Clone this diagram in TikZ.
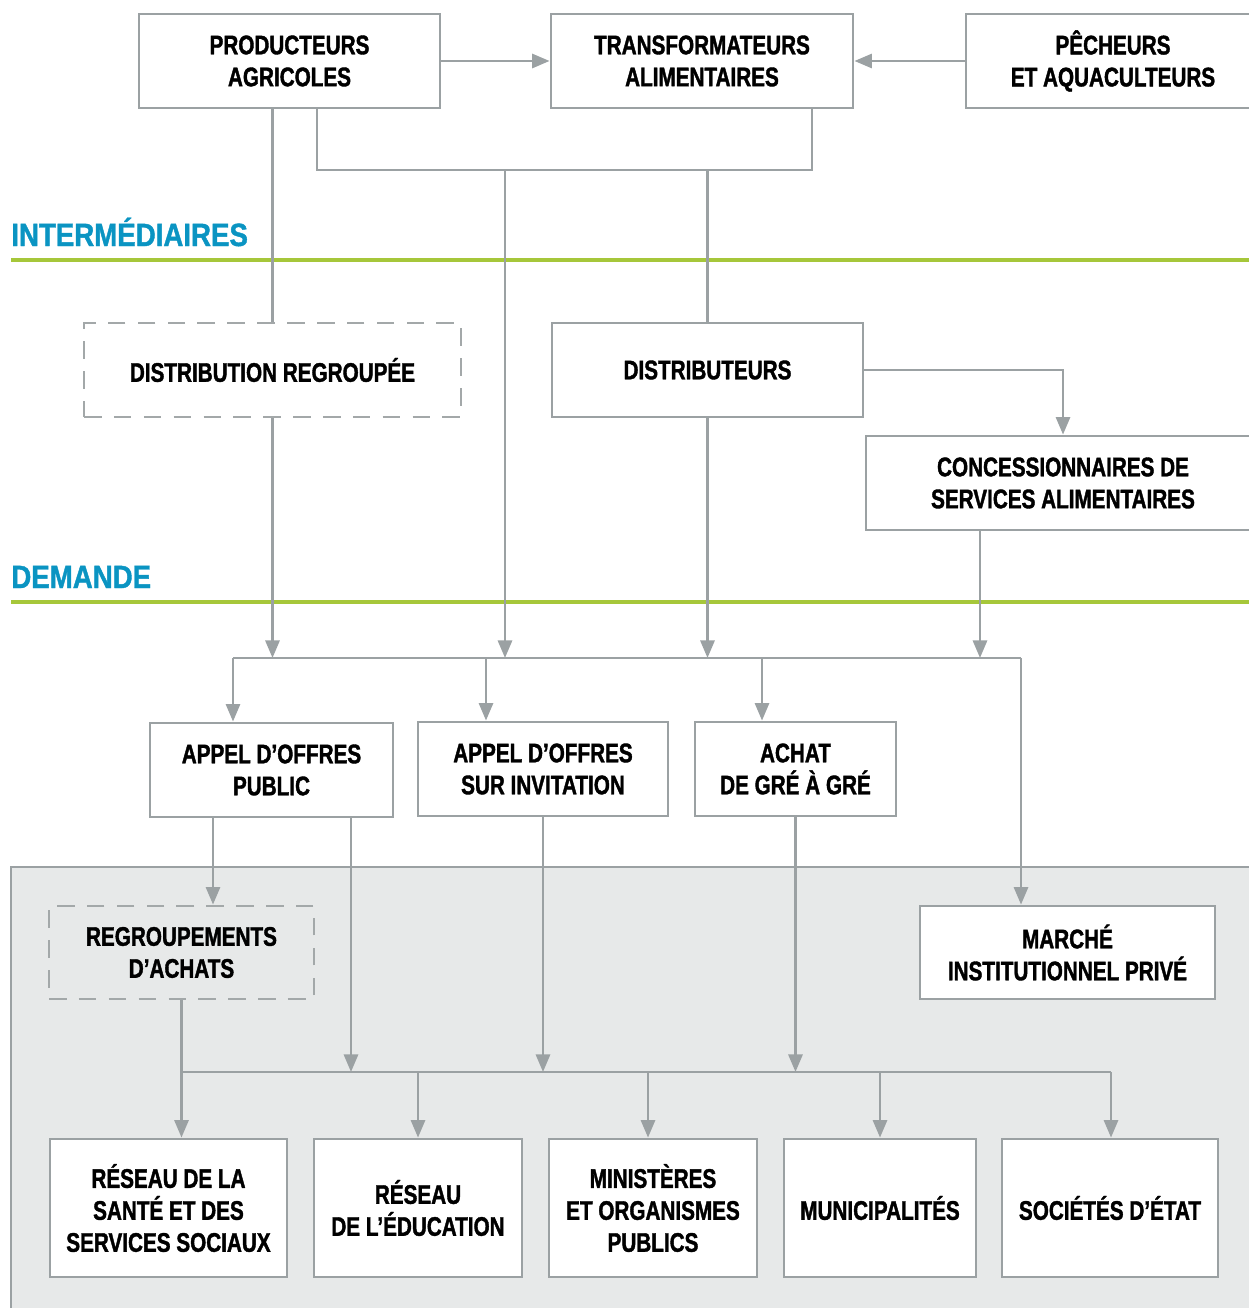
\documentclass[tikz,border=0pt]{standalone}
\usepackage{fontspec}
\newfontfamily\condfont{Liberation Sans}[FakeStretch=0.77, BoldFeatures={FakeBold=1.4}]
\newfontfamily\headfont{Liberation Sans}[FakeStretch=0.86, BoldFeatures={FakeBold=1.2}]
\usepackage{tikz}
\usetikzlibrary{arrows.meta, positioning}
\definecolor{linegray}{HTML}{9BA1A3}
\definecolor{dashgray}{HTML}{A3A8A9}
\definecolor{bandgreen}{HTML}{A6C73A}
\definecolor{headblue}{HTML}{0A94C2}
\definecolor{panelgray}{HTML}{E7E9E9}

\begin{document}
\begin{tikzpicture}[x=0.02cm, y=-0.02cm,
  box/.style={draw=linegray, line width=1.6pt, fill=white, align=center, inner sep=0pt, minimum height=1.88cm, font=\condfont\bfseries\fontsize{15.3}{18.2}\selectfont},
  dbox/.style={box, fill=none, draw=dashgray, dash pattern=on 10pt off 7pt},
  link/.style={draw=linegray, line width=1.6pt},
  flow/.style={link, -{Triangle[length=10pt,width=8pt]}},
  band/.style={draw=bandgreen, line width=2.8pt},
  head/.style={anchor=base west, inner sep=0pt, text=headblue, font=\headfont\bfseries\fontsize{18.3}{20}\selectfont}]
\useasboundingbox (0,0) rectangle (1248,1308);

\fill[panelgray] (11,867) rectangle (1280,1330);
\draw[link] (11,1330) -- (11,867) -- (1280,867);

\node [head] (interm) at (11,246) {INTERMÉDIAIRES};
\node [head] (demande) at (11,588) {DEMANDE};
\draw[band] (11,260) -- (1260,260);
\draw[band] (11,602) -- (1260,602);

\node [box, minimum width=6.02cm] (prod) at (289.5,61) {PRODUCTEURS\\AGRICOLES};
\node [box, minimum width=6.04cm] (transf) at (702,61) {TRANSFORMATEURS\\ALIMENTAIRES};
\node [box, minimum width=5.88cm] (pech) at (1113,61) {PÊCHEURS\\ET AQUACULTEURS};
\draw[flow] (prod) -- (transf);
\draw[flow] (pech) -- (transf);

\node [dbox, minimum width=7.54cm] (distreg) at (272.5,370) {DISTRIBUTION REGROUPÉE};
\node [box, minimum width=6.22cm] (distr) at (707.5,370) {DISTRIBUTEURS};
\node [box, minimum width=7.88cm] (conc) at (1063,483) {CONCESSIONNAIRES DE\\SERVICES ALIMENTAIRES};

\coordinate (brL) at (317,170);
\coordinate (brR) at (812,170);
\coordinate (brM) at (505,170);
\draw[link] (prod.south -| brL) -- (brL) -- (brR) -- (transf.south -| brR);
\draw[link] (prod.south -| distreg.north) -- (distreg.north);
\draw[link] (brL -| distr.north) -- (distr.north);
\draw[flow] (distr.east) -| (conc.north);

\coordinate (busL) at (233,658);
\coordinate (busR) at (1021,658);
\coordinate (concOut) at (980,658);
\draw[link] (busL) -- (busR);
\draw[flow] (distreg.south) -- (distreg.south |- busL);
\draw[flow] (brM) -- (brM |- busL);
\draw[flow] (distr.south) -- (distr.south |- busL);
\draw[flow] (conc.south -| concOut) -- (concOut);

\node [box, minimum width=4.86cm] (appub) at (271.5,770) {APPEL D’OFFRES\\PUBLIC};
\node [box, minimum width=5.0cm] (apinv) at (543,769) {APPEL D’OFFRES\\SUR INVITATION};
\node [box, minimum width=4.02cm] (achat) at (795.5,769) {ACHAT\\DE GRÉ À GRÉ};
\draw[flow] (busL) -- (appub.north -| busL);
\draw[flow] (486,658) -- (apinv.north -| 486,0);
\draw[flow] (762,658) -- (achat.north -| 762,0);

\node [dbox, minimum width=5.3cm, minimum height=1.86cm] (regr) at (181.5,952.5) {REGROUPEMENTS\\D’ACHATS};
\node [box, minimum width=5.9cm, minimum height=1.86cm] (marche) at (1067.5,952.5) {MARCHÉ\\INSTITUTIONNEL PRIVÉ};
\draw[flow] (busR) -- (marche.north -| busR);

\coordinate (busBL) at (182,1072);
\coordinate (busBR) at (1111,1072);
\draw[flow] (appub.south -| 213,0) -- (regr.north -| 213,0);
\draw[flow] (appub.south -| 351,0) -- (351,1072);
\draw[flow] (apinv.south) -- (apinv.south |- busBL);
\draw[flow] (achat.south) -- (achat.south |- busBL);
\draw[link] (busBL) -- (busBR);

\node [box, minimum width=4.74cm, minimum height=2.76cm] (sante) at (168.5,1208) {RÉSEAU DE LA\\SANTÉ ET DES\\SERVICES SOCIAUX};
\node [box, minimum width=4.16cm, minimum height=2.76cm] (educ) at (418,1208) {RÉSEAU\\DE L’ÉDUCATION};
\node [box, minimum width=4.16cm, minimum height=2.76cm] (minis) at (653,1208) {MINISTÈRES\\ET ORGANISMES\\PUBLICS};
\node [box, minimum width=3.84cm, minimum height=2.76cm] (munic) at (880,1208) {MUNICIPALITÉS};
\node [box, minimum width=4.32cm, minimum height=2.76cm] (soc) at (1110,1208) {SOCIÉTÉS D’ÉTAT};

\draw[flow] (regr.south) -- (sante.north -| regr.south);
\draw[flow] (educ.north |- busBL) -- (educ.north);
\draw[flow] (648,1072) -- (minis.north -| 648,0);
\draw[flow] (munic.north |- busBL) -- (munic.north);
\draw[flow] (busBR) -- (soc.north -| busBR);
\end{tikzpicture}
\end{document}
